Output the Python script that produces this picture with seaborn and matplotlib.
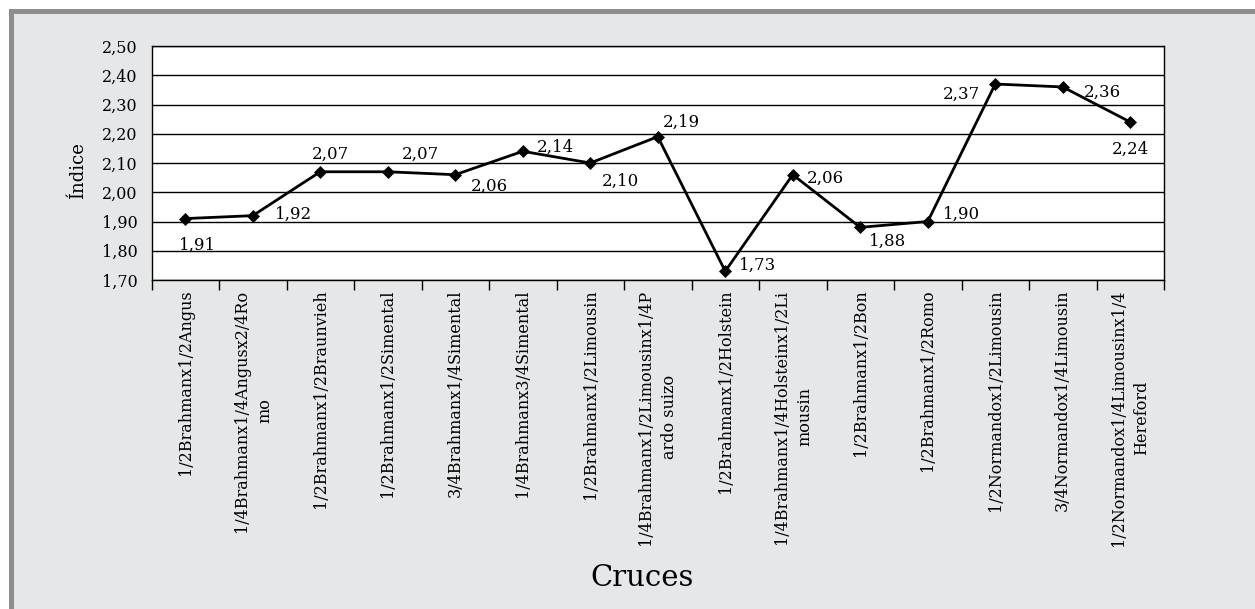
import matplotlib
matplotlib.use("Agg")
import matplotlib.pyplot as plt
from matplotlib.patches import Rectangle
from matplotlib.ticker import FixedLocator
import seaborn as sns
import pandas as pd

# Crosses and their index values
cruces = [
    "1/2Brahmanx1/2Angus",
    "1/4Brahmanx1/4Angusx2/4Ro\nmo",
    "1/2Brahmanx1/2Braunvieh",
    "1/2Brahmanx1/2Simental",
    "3/4Brahmanx1/4Simental",
    "1/4Brahmanx3/4Simental",
    "1/2Brahmanx1/2Limousin",
    "1/4Brahmanx1/2Limousinx1/4P\nardo suizo",
    "1/2Brahmanx1/2Holstein",
    "1/4Brahmanx1/4Holsteinx1/2Li\nmousin",
    "1/2Brahmanx1/2Bon",
    "1/2Brahmanx1/2Romo",
    "1/2Normandox1/2Limousin",
    "3/4Normandox1/4Limousin",
    "1/2Normandox1/4Limousinx1/4\nHereford",
]
indice = [1.91, 1.92, 2.07, 2.07, 2.06, 2.14, 2.10, 2.19, 1.73, 2.06, 1.88, 1.90, 2.37, 2.36, 2.24]
y_ticks = [1.70, 1.80, 1.90, 2.00, 2.10, 2.20, 2.30, 2.40, 2.50]

# Placement of each value label relative to its point (pixels)
label_offsets = [(12, -25), (41, 3), (10, 19), (33, 19), (34, -10), (33, 6), (30, -16),
                 (24, 16), (32, 8), (33, -2), (27, -12), (34, 9), (-34, -8), (40, -3), (0, -25)]

def coma(v):
    return f"{v:.2f}".replace(".", ",")

sns.set_theme(style="white")
plt.rcParams["font.family"] = ["DejaVu Serif"]
plt.rcParams["axes.linewidth"] = 1.0

W, H = 1255, 609
fig = plt.figure(figsize=(W / 100, H / 100), dpi=100, facecolor="white")

# panel background with grey frame on the top and left
frame = Rectangle((11.5 / W, -0.1), 1.2, (H - 10.8) / H + 0.1,
                  transform=fig.transFigure, facecolor="#e6e7e9",
                  edgecolor="#8e8e8e", linewidth=3.6, zorder=-10)
fig.patches.append(frame)

ax = fig.add_axes([151.5 / W, 1 - 280 / H, (1164 - 151.5) / W, (280 - 46) / H])
ax.set_zorder(1)
ax.set_facecolor("white")

df = pd.DataFrame({"pos": range(len(cruces)), "indice": indice})
sns.lineplot(data=df, x="pos", y="indice", ax=ax, color="black", linewidth=2.0,
             marker="D", markersize=6.5, markeredgewidth=0.5, markeredgecolor="black",
             zorder=3)

ax.set_xlim(-0.5, len(cruces) - 0.5)
ax.set_ylim(1.70, 2.50)

# horizontal gridlines
ax.set_yticks(y_ticks)
ax.set_yticklabels([coma(v) for v in y_ticks], fontsize=11.5)
ax.yaxis.grid(True, color="black", linewidth=1.0)
ax.xaxis.grid(False)
ax.tick_params(axis="y", direction="out", length=7, width=1.0, pad=3, colors="black")

# category labels at centres, tick marks between categories
ax.set_xticks(range(len(cruces)))
ax.set_xticklabels(cruces, rotation=90, fontsize=11.5, ha="center", va="top")
for lbl in ax.get_xticklabels():
    lbl.set_multialignment("center")
    lbl.set_linespacing(1.5)
ax.xaxis.set_minor_locator(FixedLocator([i - 0.5 for i in range(len(cruces) + 1)]))
ax.tick_params(axis="x", which="major", length=0, pad=7, colors="black")
ax.tick_params(axis="x", which="minor", direction="out", length=7, width=1.0, colors="black",
               bottom=True)

for s in ax.spines.values():
    s.set_visible(True)
    s.set_color("black")
    s.set_linewidth(1.0)

ax.set_xlabel("")
ax.set_ylabel("")

for i, (v, off) in enumerate(zip(indice, label_offsets)):
    ax.annotate(coma(v), xy=(i, v), xytext=off, textcoords="offset pixels",
                ha="center", va="center_baseline", fontsize=12, color="black", zorder=4)

fig.text(78 / W, 1 - 171 / H, "Índice", rotation=90, ha="center", va="center",
         fontsize=13, color="black", zorder=2)
fig.text(642 / W, 1 - 578 / H, "Cruces", ha="center", va="center", fontsize=21,
         color="black", zorder=2)

fig.savefig("out.png", dpi=100, facecolor=fig.get_facecolor())
